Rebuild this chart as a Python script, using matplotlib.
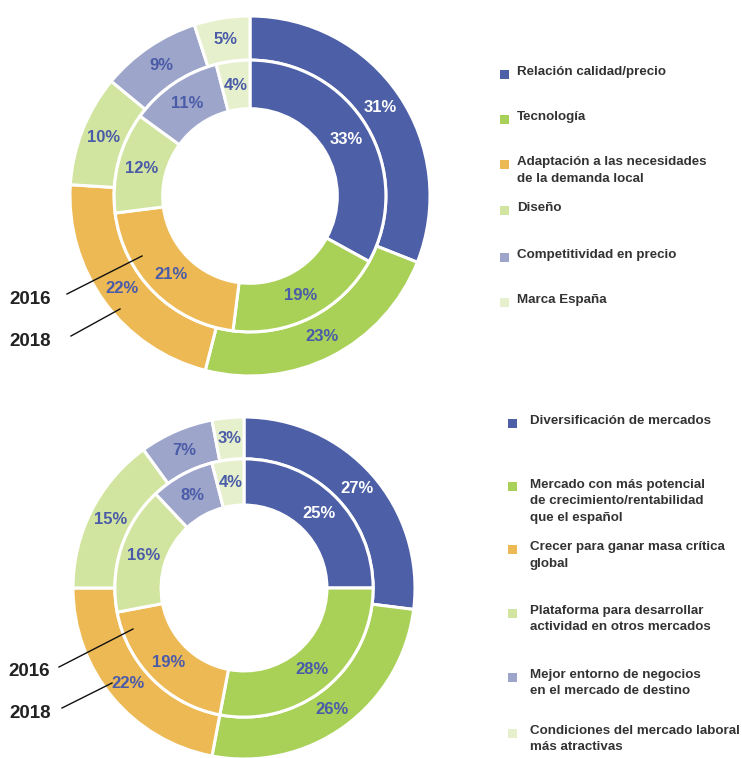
import matplotlib
matplotlib.use("Agg")
import matplotlib.pyplot as plt
from matplotlib.patches import Rectangle
from matplotlib.lines import Line2D

plt.rcParams['font.family'] = ['Liberation Sans', 'DejaVu Sans']

W, H = 742, 758

colors = ['#4c5fa7', '#a9d158', '#edb955', '#d2e5a0', '#9ea5ca', '#e6f0cd']
label_blue = '#4a5ba8'

# Top chart
top_categories = ['Relación calidad/precio', 'Tecnología',
                  'Adaptación a las necesidades\nde la demanda local', 'Diseño',
                  'Competitividad en precio', 'Marca España']
top_2016 = [33, 19, 21, 12, 11, 4]
top_2018 = [31, 23, 22, 10, 9, 5]

# Bottom chart
bot_categories = ['Diversificación de mercados',
                  'Mercado con más potencial\nde crecimiento/rentabilidad\nque el español',
                  'Crecer para ganar masa crítica\nglobal',
                  'Plataforma para desarrollar\nactividad en otros mercados',
                  'Mejor entorno de negocios\nen el mercado de destino',
                  'Condiciones del mercado laboral\nmás atractivas']
bot_2016 = [25, 28, 19, 16, 8, 4]
bot_2018 = [27, 26, 22, 15, 7, 3]

years = ['2016', '2018']

fig = plt.figure(figsize=(W / 100, H / 100), dpi=100)


def px(x, y):
    return (x / W, 1 - y / H)


def donut(cx, cy, r, v16, v18):
    ax = fig.add_axes([(cx - r) / W, 1 - (cy + r) / H, 2 * r / W, 2 * r / H])
    R_in = 0.755
    hole = 0.485
    wp = dict(edgecolor='white', linewidth=2.2)

    def fmt_factory(vals):
        it = iter(vals)
        return lambda p: f"{next(it)}%"

    w_out, _, t_out = ax.pie(v18, radius=1.0, colors=colors, startangle=90,
                             counterclock=False,
                             wedgeprops=dict(width=1 - R_in, **wp),
                             autopct=fmt_factory(v18), pctdistance=(1 + R_in) / 2 / 1.0)
    w_in, _, t_in = ax.pie(v16, radius=R_in, colors=colors, startangle=90,
                           counterclock=False,
                           wedgeprops=dict(width=R_in - hole, **wp),
                           autopct=fmt_factory(v16), pctdistance=(R_in + hole) / 2 / R_in)
    for i, t in enumerate(list(t_out) + list(t_in)):
        t.set_color('white' if i % len(v18) == 0 else label_blue)
        t.set_fontsize(12)
        t.set_fontweight('bold')
    ax.set_xlim(-1, 1)
    ax.set_ylim(-1, 1)
    ax.set_aspect('equal')
    ax.axis('off')
    return ax


donut(250, 196, 180, top_2016, top_2018)
donut(244, 588, 171, bot_2016, bot_2018)


def year_labels(items):
    for (label, tx, ty, x0, y0, x1, y1) in items:
        fig.text(*px(tx, ty), label, fontsize=13.5, fontweight='bold',
                 color='#222222', ha='left', va='center')
        fig.add_artist(Line2D([x0 / W, x1 / W], [1 - y0 / H, 1 - y1 / H],
                              color='#111111', linewidth=1.0))


year_labels([(years[0], 9, 300, 67, 294, 142, 256),
             (years[1], 9, 341, 71, 336, 120, 309)])
year_labels([(years[0], 8, 672, 59, 667, 133, 629),
             (years[1], 9, 713, 62, 708, 112, 683)])


def legend(cats, sq_x, tx, ys, size=9):
    for c, cat, y in zip(colors, cats, ys):
        fig.add_artist(Rectangle(((sq_x) / W, 1 - (y + size / 2) / H), size / W, size / H,
                                 facecolor=c, edgecolor='none', transform=fig.transFigure))
        fig.text(tx / W, 1 - (y - 8) / H, cat, fontsize=9.6, fontweight='bold',
                 color='#333333', ha='left', va='top', linespacing=1.5)


legend(top_categories, 500, 517, [74, 119, 164, 210, 257, 302])
legend(bot_categories, 508, 530, [423, 487, 549, 613, 677, 733])

fig.savefig('out.png', dpi=100)
